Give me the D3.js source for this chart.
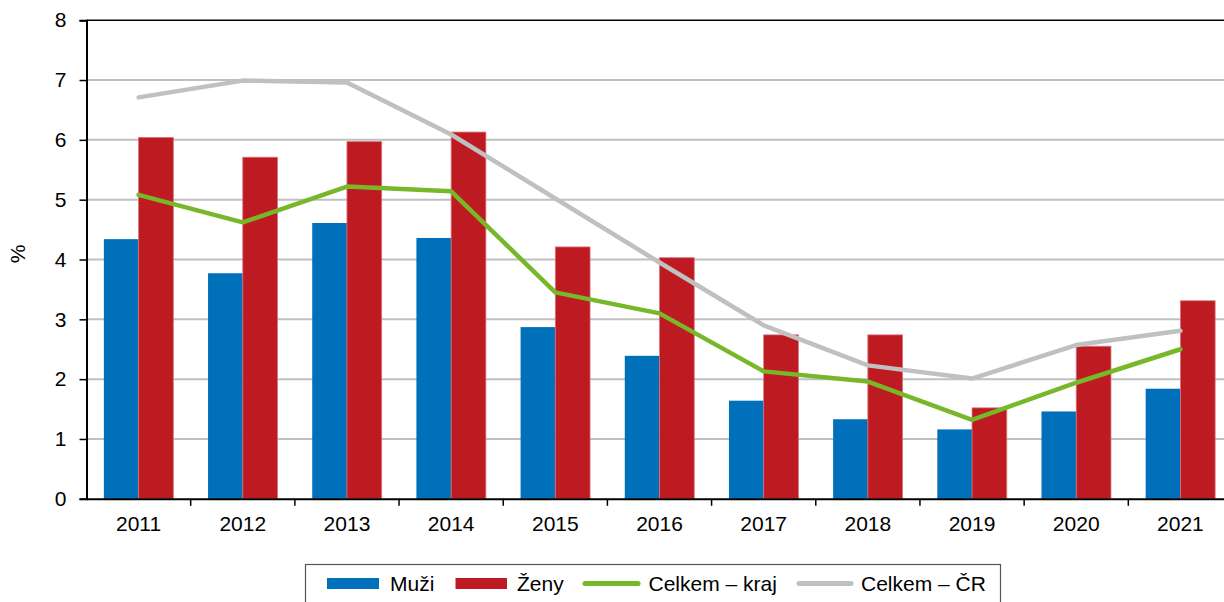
<!DOCTYPE html>
<html><head><meta charset="utf-8">
<script src="https://cdn.jsdelivr.net/npm/d3@7"></script>
<style>
html,body{margin:0;padding:0;background:#fff;}
svg{display:block;font-family:"Liberation Sans",Arial,sans-serif;}
</style></head>
<body>
<svg id="chart" width="1224" height="602"></svg>
<script>
const years = ["2011","2012","2013","2014","2015","2016","2017","2018","2019","2020","2021"];
const muzi = [4.34,3.77,4.61,4.36,2.87,2.39,1.64,1.33,1.16,1.46,1.84];
const zeny = [6.04,5.71,5.97,6.13,4.21,4.03,2.74,2.74,1.52,2.55,3.31];
const kraj = [5.08,4.62,5.22,5.14,3.45,3.10,2.13,1.96,1.32,1.94,2.50];
const cr = [6.71,6.99,6.96,6.09,5.02,3.95,2.90,2.23,2.01,2.57,2.81];
const yTicks = [0,1,2,3,4,5,6,7,8];
const seriesNames = ["Muži","Ženy","Celkem – kraj","Celkem – ČR"];

(function(){
const colors = {muzi:"#0070BA", zeny:"#BD1A22", kraj:"#77B82A", cr:"#C0C0C0"};
const svg = d3.select("#chart");
const pLeft = 86.5, pRight = 1232.5, pTop = 20.2, pBottom = 498.8;

const x = d3.scaleBand().domain(years).range([pLeft, pRight]).paddingInner(0).paddingOuter(0);
const inner = d3.scaleBand().domain(["m","z"]).range([0, x.bandwidth()]).paddingInner(0).paddingOuter(0.5);
const y = d3.scaleLinear().domain([0,8]).range([pBottom, pTop]);

// gridlines
svg.append("g").selectAll("line").data(yTicks.filter(d=>d>0 && d<8)).join("line")
  .attr("x1", pLeft).attr("x2", 1224).attr("y1", d=>y(d)).attr("y2", d=>y(d))
  .attr("stroke","#c0c0c0").attr("stroke-width",2);
// top border
svg.append("line").attr("x1",pLeft).attr("x2",1224).attr("y1",y(8)).attr("y2",y(8))
  .attr("stroke","#000").attr("stroke-width",1.5);

// bars
const g = svg.append("g");
g.selectAll("rect.m").data(years).join("rect").attr("class","m")
  .attr("x", d=>x(d)+inner("m")).attr("width", inner.bandwidth())
  .attr("y", (d,i)=>y(muzi[i])).attr("height",(d,i)=>y(0)-y(muzi[i]))
  .attr("fill", colors.muzi);
g.selectAll("rect.z").data(years).join("rect").attr("class","z")
  .attr("x", d=>x(d)+inner("z")).attr("width", inner.bandwidth())
  .attr("y", (d,i)=>y(zeny[i])).attr("height",(d,i)=>y(0)-y(zeny[i]))
  .attr("fill", colors.zeny).attr("stroke","#d9737a").attr("stroke-width",0.8);

// lines
const line = d3.line().x((d,i)=>x(years[i])+x.bandwidth()/2).y(d=>y(d));
svg.append("path").datum(cr).attr("d",line).attr("fill","none")
  .attr("stroke",colors.cr).attr("stroke-width",4.5).attr("stroke-linecap","round").attr("stroke-linejoin","round");
svg.append("path").datum(kraj).attr("d",line).attr("fill","none")
  .attr("stroke",colors.kraj).attr("stroke-width",4.5).attr("stroke-linecap","round").attr("stroke-linejoin","round");

// y axis
const yAxis = d3.axisLeft(y).tickValues(yTicks).tickSize(7).tickPadding(13).tickFormat(d3.format("d"));
const ya = svg.append("g").attr("transform",`translate(${pLeft},0)`).call(yAxis);
ya.select(".domain").attr("stroke","#000").attr("stroke-width",2);
ya.selectAll(".tick line").attr("stroke","#000").attr("stroke-width",1.5);
ya.selectAll("text").attr("font-size",21).attr("fill","#000").attr("font-family","Liberation Sans, Arial, sans-serif");

// x axis
const xAxis = d3.axisBottom(x).tickSize(0).tickPadding(17);
const xa = svg.append("g").attr("transform",`translate(0,${pBottom})`).call(xAxis);
xa.select(".domain").attr("stroke","#000").attr("stroke-width",2);
xa.selectAll("text").attr("font-size",21).attr("fill","#000").attr("font-family","Liberation Sans, Arial, sans-serif");
// boundary ticks
svg.append("g").selectAll("line").data(years.slice(1)).join("line")
  .attr("x1",d=>x(d)).attr("x2",d=>x(d)).attr("y1",pBottom).attr("y2",pBottom+7)
  .attr("stroke","#000").attr("stroke-width",1.5);

// y label
svg.append("text").attr("transform","translate(25,254) rotate(-90)")
  .attr("text-anchor","middle").attr("font-size",21).attr("fill","#000").text("%");

// legend
const lg = svg.append("g");
lg.append("rect").attr("x",305.5).attr("y",564.5).attr("width",695).attr("height",60)
  .attr("fill","#fff").attr("stroke","#555").attr("stroke-width",1.2);
const ly = 583.5;
const items = [
  {name:seriesNames[0], type:"rect", color:colors.muzi, x0:327, x1:379, tx:390},
  {name:seriesNames[1], type:"rect", color:colors.zeny, x0:455.5, x1:507, tx:517},
  {name:seriesNames[2], type:"line", color:colors.kraj, x0:585, x1:638, tx:648.5},
  {name:seriesNames[3], type:"line", color:colors.cr, x0:799, x1:851, tx:861},
];
items.forEach(it=>{
  if(it.type==="rect"){
    lg.append("rect").attr("x",it.x0).attr("y",ly-5.5).attr("width",it.x1-it.x0).attr("height",11).attr("fill",it.color);
  } else {
    lg.append("line").attr("x1",it.x0).attr("x2",it.x1).attr("y1",ly).attr("y2",ly)
      .attr("stroke",it.color).attr("stroke-width",5).attr("stroke-linecap","round");
  }
  lg.append("text").attr("x",it.tx).attr("y",ly+7.5).attr("font-size",21).attr("fill","#000").text(it.name);
});
})();
</script>
</body></html>
